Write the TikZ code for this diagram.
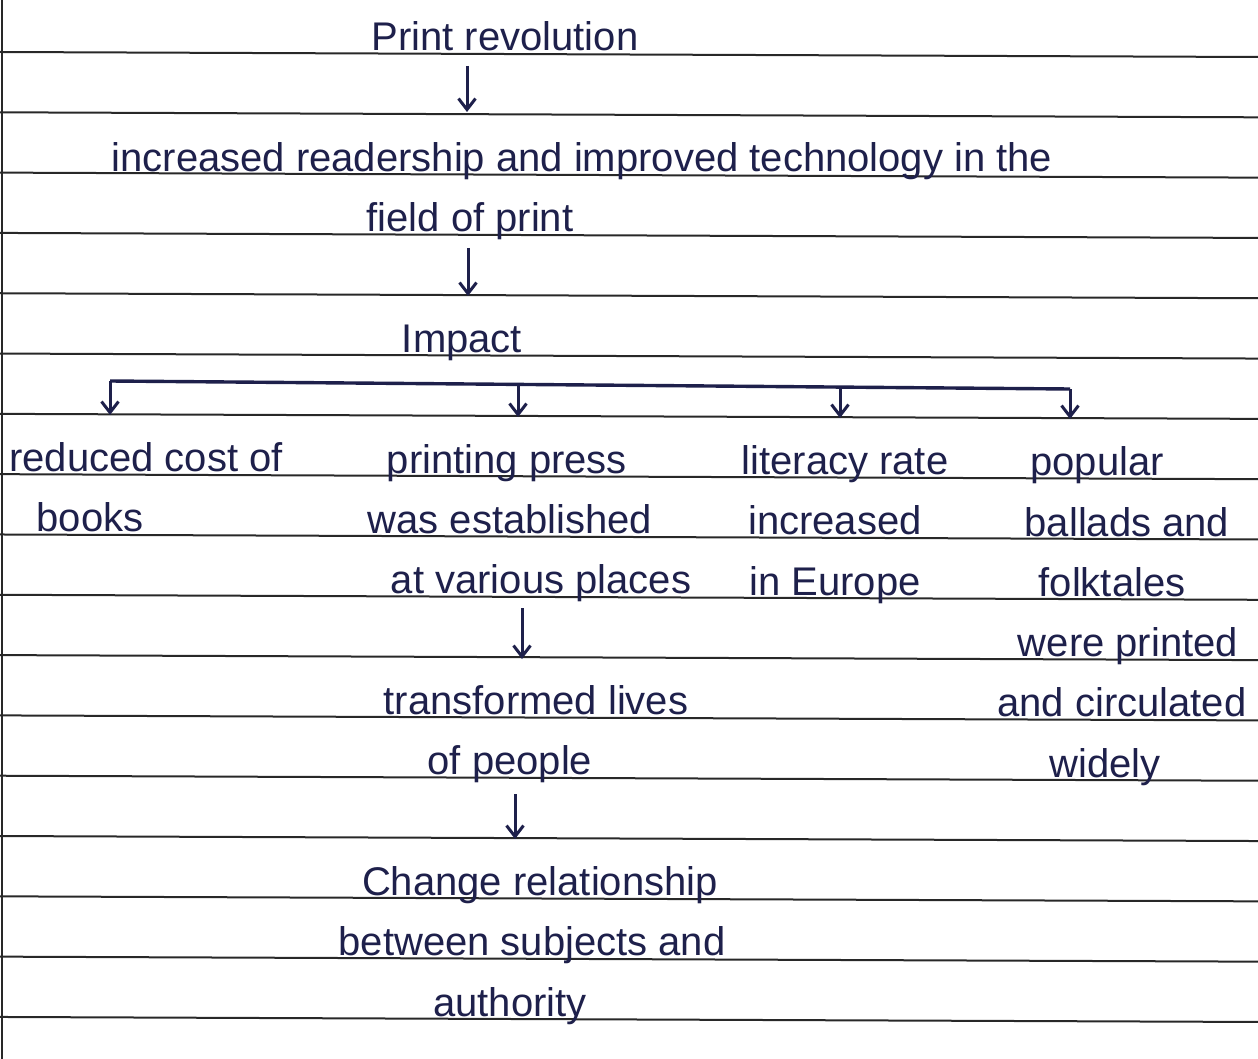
\documentclass[tikz,border=0pt]{standalone}
\usepackage{fontspec}
\setmainfont{Liberation Sans}
\usetikzlibrary{arrows.meta}
\definecolor{ink}{RGB}{30,32,75}
\definecolor{ruleclr}{RGB}{40,40,40}
\begin{document}
\begin{tikzpicture}[x=1pt,y=-1pt,
  txt/.style={inner sep=0pt, text=ink, font=\fontsize{40}{46}\selectfont, anchor=base},
  arr/.style={draw=ink, line width=3pt, -{Straight Barb[length=11pt,width=17pt]}},
  bracketline/.style={draw=ink, line width=3.4pt},
  ruleline/.style={draw=ruleclr, line width=2pt}]
\useasboundingbox[fill=white] (0,0) rectangle (1258,1059);
% ruled notebook lines
\foreach \k in {0,...,16} {
  \draw[ruleline] (0,{52+60.31*\k}) -- (1258,{57+60.31*\k});
}
\draw[ruleline] (2,0) -- (2,1059);

% texts
\node[txt] (pr) at (505,51) {Print revolution};
\node[txt] (inc1) at (582,171.9) {increased readership and improved technology in the};
\node[txt] (inc2) at (470,231.8) {field of print};
\node[txt] (imp) at (462,352.4) {Impact};

\node[txt] (rc1) at (146,471.7) {reduced cost of};
\node[txt] (rc2) at (90,531.9) {books};

\node[txt] (pp1) at (507,473.2) {printing press};
\node[txt] (pp2) at (510,533.5) {was established};
\node[txt] (pp3) at (541,593.9) {at various places};

\node[txt] (lr1) at (845,474.6) {literacy rate};
\node[txt] (lr2) at (835,534.8) {increased};
\node[txt] (lr3) at (835,595.1) {in Europe};

\node[txt] (pb1) at (1097,475.6) {popular};
\node[txt] (pb2) at (1127,536.0) {ballads and};
\node[txt] (pb3) at (1112,596.2) {folktales};
\node[txt] (pb4) at (1128,656.6) {were printed};
\node[txt] (pb5) at (1122,716.9) {and circulated};
\node[txt] (pb6) at (1105,777.1) {widely};

\node[txt] (tl1) at (536,714.5) {transformed lives};
\node[txt] (tl2) at (510,774.7) {of people};

\node[txt] (cr1) at (540,895.4) {Change relationship};
\node[txt] (cr2) at (532,955.8) {between subjects and};
\node[txt] (cr3) at (510,1016) {authority};

% arrow end points
\coordinate (a1s) at (467,66);   \coordinate (a1e) at (467,112);
\coordinate (a2s) at (468,248);  \coordinate (a2e) at (468,296);
\coordinate (a3s) at (522,608);  \coordinate (a3e) at (522,659);
\coordinate (a4s) at (515,794);  \coordinate (a4e) at (515,839);

\draw[arr] (a1s) -- (a1e);
\draw[arr] (a2s) -- (a2e);
\draw[arr] (a3s) -- (a3e);
\draw[arr] (a4s) -- (a4e);

% impact bracket
\coordinate (b1) at (110,381);   \coordinate (b1e) at (110,415);
\coordinate (b2) at (518,384.4); \coordinate (b2e) at (518,417);
\coordinate (b3) at (840,387);   \coordinate (b3e) at (840,418);
\coordinate (b4) at (1070,389);  \coordinate (b4e) at (1070,419);
\draw[bracketline] (b1) -- (b4);
\draw[arr] (b1) -- (b1e);
\draw[arr] (b2) -- (b2e);
\draw[arr] (b3) -- (b3e);
\draw[arr] (b4) -- (b4e);
\end{tikzpicture}
\end{document}
